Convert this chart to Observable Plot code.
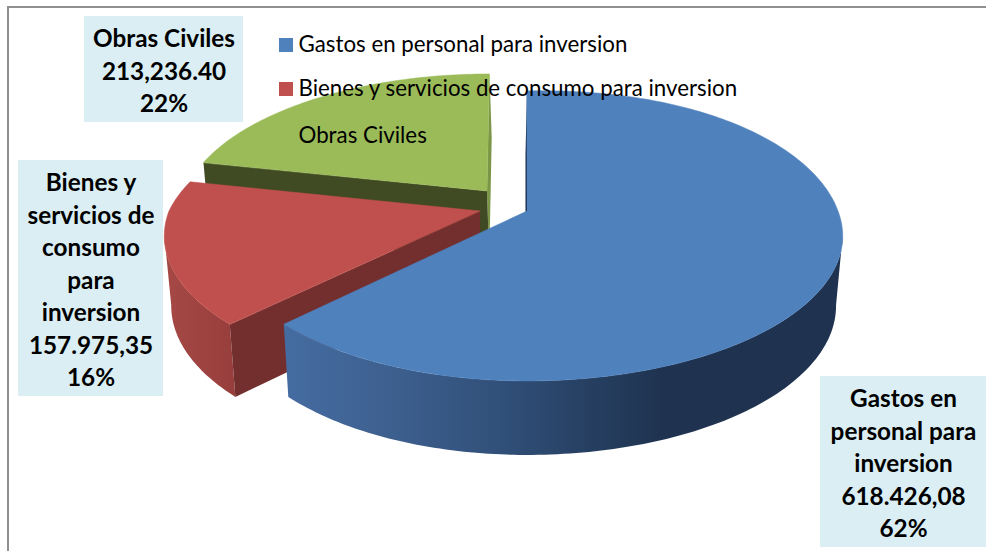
<!DOCTYPE html>
<html><head><meta charset="utf-8">
<style>html,body{margin:0;padding:0;background:#fff}svg{display:block}</style>
<script src="https://cdn.jsdelivr.net/npm/d3@7"></script>
<script src="https://cdn.jsdelivr.net/npm/@observablehq/plot@0.6"></script>
</head><body><script>
const categories = ["Gastos en personal para inversion","Bienes y servicios de consumo para inversion","Obras Civiles"];
const values = [618426.08,157975.35,213236.40];
const valueLabels = ["618.426,08","157.975,35","213,236.40"];
const percents = ["62%","16%","22%"];
const wrappedNames = [["Gastos en","personal para","inversion"],["Bienes y","servicios de","consumo","para","inversion"],["Obras Civiles"]];
const colors = ["#4f81bd","#c0504d","#9bbb59"];
const wallColors = ["#1f3350","#722f2e","#404a23"];

// layout of the projected pie (page frame units)
const k=0.172, a=140.7, b=311, extremeDeg=99.6;
const view = [
 {cx:527,cy:211,bl:0.972,br:1,af:1,tilt:6,skew:0},
 {cx:480,cy:211,bl:1,br:1,af:1,tilt:0,skew:14},
 {cx:487,cy:191,bl:0.97,br:1,af:0.975,tilt:0,skew:2.5}
];
const total=d3.sum(values);
let acc=0;
const slices=values.map((v,i)=>{const s=acc/total*360;acc+=v;return {i,start:s,end:acc/total*360,...view[i]};});
function pt(s,deg,bottom){
  const t=deg*Math.PI/180,u=Math.sin(t),v=-Math.cos(t),w=1-k*v;
  const bb=b*(u<0?s.bl:s.br);
  let x=s.cx+bb*u/w,y=s.cy+a*s.af*v/w;
  if(v<0){ x+=s.skew*(-v); if(u>0.0001) y+=s.tilt*u*v; }
  if(bottom){x+=(510-x)*0.02;y+=69+5*v;}
  return {x,y,deg};
}
function arc(s,from,to,bottom){const n=Math.max(2,Math.ceil(Math.abs(to-from)));return d3.range(n+1).map(j=>pt(s,from+(to-from)*j/n,bottom));}
const xf=d=>d.x,yf=d=>d.y;
function face(s){const c={x:s.cx,y:s.cy};return Plot.area(arc(s,s.start,s.end,false),{x1:xf,y1:yf,x2:()=>c.x,y2:()=>c.y,fill:colors[s.i],stroke:colors[s.i],strokeWidth:0.5});}
function wall(s,deg,fill){
  const t0={x:s.cx,y:s.cy},t1=pt(s,deg,false),b0={x:s.cx+(510-s.cx)*0.02+(s.i===0?-1.2:s.i===2?1.8:0),y:s.cy+69},b1=pt(s,deg,true);
  if(s.i===0)b1.x-=1.2; if(s.i===2&&deg===360)b1.x+=1.8;
  return Plot.area([{a:t0,b:b0},{a:t1,b:b1}],{x1:d=>d.a.x,y1:d=>d.a.y,x2:d=>d.b.x,y2:d=>d.b.y,fill});
}
function side(s,from,to,fill){
  const top=arc(s,from,to,false),bot=arc(s,from,to,true);
  return Plot.area(top.map((d,j)=>({a:d,b:bot[j]})),{x1:d=>d.a.x,y1:d=>d.a.y,x2:d=>d.b.x,y2:d=>d.b.y,fill});
}
function gradient(id,stops,x1,x2){
  return ()=>{const d=d3.create("svg:defs");const g=d.append("linearGradient").attr("id",id).attr("gradientUnits","userSpaceOnUse").attr("x1",x1).attr("x2",x2).attr("y1",0).attr("y2",0);
    stops.forEach(([o,c])=>g.append("stop").attr("offset",o).attr("stop-color",c));return d.node();};
}
const [sb,sr,sg]=slices;

const boxes=[
 {i:2,x1:84,x2:243,y1:16,y2:122},
 {i:1,x1:18,x2:163,y1:160,y2:396},
 {i:0,x1:820,x2:986,y1:376,y2:547}
];
const fontFamily="Lato, 'Open Sans', sans-serif";
const labelText=i=>[...wrappedNames[i],valueLabels[i],percents[i]].join("\n");
const legendY=[44,88,135];

const chart=Plot.plot({
  width:986,height:551,margin:0,
  x:{domain:[0,986],range:[0,986],axis:null},
  y:{domain:[0,551],range:[0,551],axis:null},
  marks:[
    gradient("blueSide",[[0,"#456ca1"],[0.2,"#3d5f8e"],[0.4,"#304f78"],[0.55,"#263f61"],[0.68,"#1f3350"],[1,"#1f3350"]],285,840),
    gradient("redSide",[[0,"#a54845"],[1,"#973e3c"]],170,235),
    Plot.ruleY([6.5],{stroke:"#8f8f8f",strokeWidth:2,x1:7,x2:986}),
    Plot.ruleX([7.5],{stroke:"#8f8f8f",strokeWidth:2,y1:6,y2:551}),
    // green slice
    wall(sg,sg.end,"#7b9646"),
    wall(sg,sg.start,wallColors[2]),
    face(sg),
    // red slice
    side(sr,sr.start,360-extremeDeg,"url(#redSide)"),
    wall(sr,sr.start,wallColors[1]),
    face(sr),
    // blue slice
    wall(sb,sb.start,wallColors[0]),
    side(sb,extremeDeg,sb.end,"url(#blueSide)"),
    face(sb),
    // data labels
    Plot.rect(boxes,{x1:"x1",x2:"x2",y1:"y1",y2:"y2",fill:"#daeef3"}),
    Plot.text(boxes,{x:d=>(d.x1+d.x2)/2,y:d=>(d.y1+d.y2)/2,text:d=>labelText(d.i),fontFamily,fontWeight:"bold",fontSize:24.3,lineHeight:32.5/24.3,fill:"#000"}),
    // legend
    Plot.rect(categories,{x1:()=>279,x2:()=>293,y1:(d,i)=>legendY[i]-6,y2:(d,i)=>legendY[i]+8,fill:(d,i)=>colors[i]}),
    Plot.text(categories,{x:()=>298,y:(d,i)=>legendY[i],text:d=>d,textAnchor:"start",fontFamily,fontSize:22.3,fill:"#000"})
  ]
});
document.body.appendChild(chart);
</script></body></html>
